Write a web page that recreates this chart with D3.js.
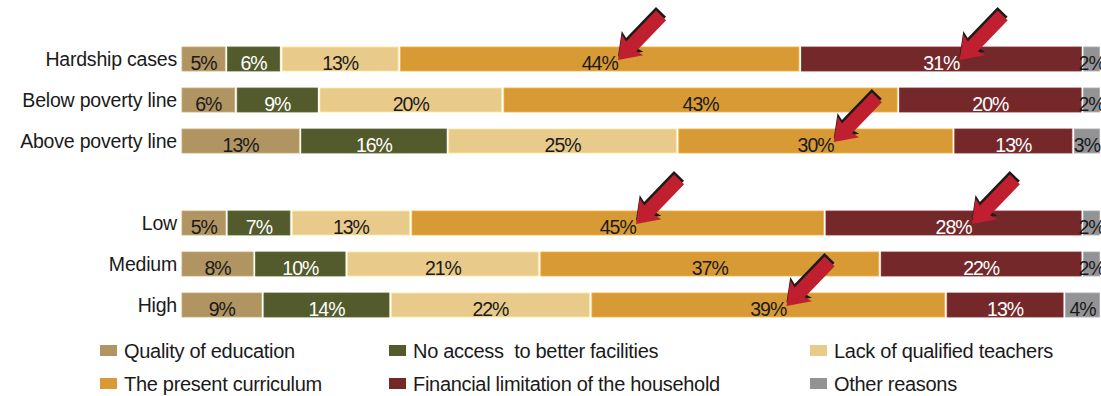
<!DOCTYPE html>
<html>
<head>
<meta charset="utf-8">
<script src="https://cdn.jsdelivr.net/npm/d3@7"></script>
<style>
  html, body { margin: 0; padding: 0; background: #fff; }
  svg { display: block; font-family: "Liberation Sans", Arial, sans-serif; }
</style>
</head>
<body>
<svg id="chart" width="1101" height="396"></svg>
<script>
// ---- data ----
const groupIncome = ["Hardship cases", "Below poverty line", "Above poverty line"];
const groupLevel = ["Low", "Medium", "High"];
const seriesNames = [
  "Quality of education",
  "No access  to better facilities",
  "Lack of qualified teachers",
  "The present curriculum",
  "Financial limitation of the household",
  "Other reasons"
];
const qualityOfEducation    = [5, 6, 13, 5, 8, 9];
const noAccessFacilities    = [6, 9, 16, 7, 10, 14];
const lackQualifiedTeachers = [13, 20, 25, 13, 21, 22];
const presentCurriculum     = [44, 43, 30, 45, 37, 39];
const financialLimitation   = [31, 20, 13, 28, 22, 13];
const otherReasons          = [2, 2, 3, 2, 2, 4];
// highlighted (arrowed) segments: [category, series index]
const highlights = [
  ["Hardship cases", 3], ["Hardship cases", 4],
  ["Above poverty line", 3],
  ["Low", 3], ["Low", 4],
  ["High", 3]
];

const seriesColors = ["#b09462", "#535a2c", "#e8ca8a", "#d89a35", "#74282a", "#939396"];
const labelColors  = ["#1a1a1a", "#ffffff", "#1a1a1a", "#1a1a1a", "#ffffff", "#1a1a1a"];

const categories = [...groupIncome, ...groupLevel];
const seriesValues = [qualityOfEducation, noAccessFacilities, lackQualifiedTeachers,
                      presentCurriculum, financialLimitation, otherReasons];

// build rows (each row normalised to 100% of its total)
const rows = categories.map((c, i) => {
  const total = d3.sum(seriesValues, arr => arr[i]);
  let cum = 0;
  const segs = seriesValues.map((arr, s) => {
    const seg = { cat: c, s, v: arr[i], x0: cum / total * 100, x1: (cum + arr[i]) / total * 100 };
    cum += arr[i];
    return seg;
  });
  return { cat: c, segs };
});

const svg = d3.select("#chart");

const x = d3.scaleLinear().domain([0, 100]).range([182, 1102]);
const y = d3.scaleBand()
  .domain([...groupIncome, "__gap", ...groupLevel])
  .range([47, 317])
  .paddingInner(17 / 41)
  .paddingOuter(0);

const gap = 2.5;

const rowG = svg.append("g").selectAll("g.row")
  .data(rows).join("g").attr("class", "row")
  .attr("transform", d => `translate(0,${y(d.cat)})`);

rowG.selectAll("rect")
  .data(d => d.segs)
  .join("rect")
  .attr("x", d => x(d.x0))
  .attr("y", 0)
  .attr("width", d => Math.max(0, x(d.x1) - x(d.x0) - gap))
  .attr("height", y.bandwidth())
  .attr("fill", d => seriesColors[d.s])
  .attr("stroke", d => d3.color(seriesColors[d.s]).brighter(0.35))
  .attr("stroke-width", 0.8);

rowG.selectAll("text.val")
  .data(d => d.segs)
  .join("text")
  .attr("class", "val")
  .attr("x", d => (x(d.x0) + x(d.x1) - gap) / 2)
  .attr("y", y.bandwidth() - 1)
  .attr("text-anchor", "middle")
  .attr("font-size", 19.5)
  .attr("letter-spacing", -1)
  .attr("fill", d => labelColors[d.s])
  .text(d => d.v + "%");

rowG.append("text")
  .attr("class", "cat")
  .attr("x", 177)
  .attr("y", 18.5)
  .attr("text-anchor", "end")
  .attr("font-size", 19.5)
  .attr("letter-spacing", -0.2)
  .attr("fill", "#1a1a1a")
  .text(d => d.cat);

// arrows
const arrowPath = "M0,0 L-21,-15 L-19,-7 L-62,-7 L-62,7 L-19,7 L-21,15 Z";
const arrowG = svg.append("g").selectAll("g.arrow")
  .data(highlights).join("g").attr("class", "arrow")
  .attr("transform", d => {
    const row = rows.find(r => r.cat === d[0]);
    const seg = row.segs[d[1]];
    const cx = (x(seg.x0) + x(seg.x1)) / 2 + 17;
    const cy = y(d[0]) + 13;
    return `translate(${cx},${cy}) rotate(134)`;
  });
arrowG.append("path").attr("d", arrowPath)
  .attr("fill", "#1b1b1b")
  .attr("transform", "translate(-2.5,2.5)");
arrowG.append("path").attr("d", arrowPath)
  .attr("fill", "#c01f2f");

// legend
const legendCols = [100, 389, 810];
const legendRows = [351, 384];
const legend = svg.append("g").selectAll("g.leg")
  .data(seriesNames).join("g").attr("class", "leg")
  .attr("transform", (d, i) => `translate(${legendCols[i % 3]},${legendRows[Math.floor(i / 3)]})`);
legend.append("rect")
  .attr("x", 0).attr("y", -6).attr("width", 17).attr("height", 11)
  .attr("fill", (d, i) => seriesColors[i]);
legend.append("text")
  .attr("x", 24).attr("y", 6.5)
  .attr("font-size", 20)
  .attr("letter-spacing", -0.3)
  .attr("fill", "#1a1a1a")
  .style("white-space", "pre")
  .text(d => d);
</script>
</body>
</html>
